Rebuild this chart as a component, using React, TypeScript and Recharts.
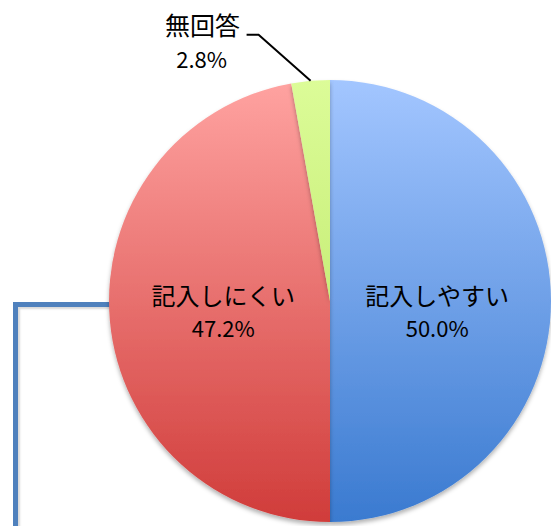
import React from "react";
import { PieChart, Pie, Cell } from "recharts";

const categories = ["記入しやすい", "記入しにくい", "無回答"];
const values = [50.0, 47.2, 2.8];
const percentLabels = ["50.0%", "47.2%", "2.8%"];

const gradients = [
  { id: "gBlue", top: "#a3c6ff", bottom: "#3a7ad0" },
  { id: "gRed", top: "#ffa3a1", bottom: "#d03c3a" },
  { id: "gGreen", top: "#dcfc98", bottom: "#b4e05a" },
];

const data = categories.map((name, i) => ({ name, value: values[i], pct: percentLabels[i] }));

const FONT = '"Noto Sans CJK JP", "Noto Sans", sans-serif';

const renderLabel = (props: any) => {
  const { cx, cy, midAngle, outerRadius, index } = props;
  const RAD = Math.PI / 180;
  const d = data[index];
  if (d.value < 5) {
    const ex = cx + outerRadius * Math.cos(-midAngle * RAD);
    const ey = cy + outerRadius * Math.sin(-midAngle * RAD);
    const bx = ex - 52;
    const by = ey - 46;
    const tx = bx - 12;
    return (
      <g>
        <polyline points={`${ex},${ey} ${bx},${by} ${tx},${by}`} fill="none" stroke="#000" strokeWidth={2} />
        <text x={tx - 44} y={by} textAnchor="middle" fontFamily={FONT} fontSize={25} fill="#000">
          {d.name}
        </text>
        <text x={tx - 45} y={by + 33} textAnchor="middle" fontFamily={FONT} fontSize={22} fill="#000">
          {d.pct}
        </text>
      </g>
    );
  }
  const r = outerRadius * 0.485;
  const x = cx + r * Math.cos(-midAngle * RAD);
  return (
    <g>
      <text x={x} y={cy + 4} textAnchor="middle" fontFamily={FONT} fontSize={24} fill="#000">
        {d.name}
      </text>
      <text x={x} y={cy + 36} textAnchor="middle" fontFamily={FONT} fontSize={22} fill="#000">
        {d.pct}
      </text>
    </g>
  );
};

export default function App() {
  return (
    <div style={{ position: "absolute", left: 0, top: 0, width: 551, height: 526, overflow: "hidden", background: "#fff" }}>
      <div
        style={{
          position: "absolute",
          left: 13,
          top: 302,
          width: 110,
          height: 240,
          borderLeft: "5px solid #4f81bd",
          borderTop: "5px solid #4f81bd",
          boxShadow: "inset 2px 2px 2px rgba(0,0,0,0.15)",
        }}
      />
      <div style={{ position: "absolute", left: 0, top: 0 }}>
        <PieChart width={551} height={526} margin={{ top: 0, right: 0, bottom: 0, left: 0 }}>
          <defs>
            {gradients.map((g) => (
              <linearGradient key={g.id} id={g.id} gradientUnits="userSpaceOnUse" x1="0" y1="80" x2="0" y2="522">
                <stop offset="0%" stopColor={g.top} />
                <stop offset="100%" stopColor={g.bottom} />
              </linearGradient>
            ))}
            <filter id="pieShadow" x="-10%" y="-10%" width="120%" height="120%">
              <feDropShadow dx="0" dy="3" stdDeviation="2" floodColor="#000" floodOpacity="0.3" />
            </filter>
          </defs>
          <Pie
            data={data}
            dataKey="value"
            nameKey="name"
            cx={330}
            cy={301}
            outerRadius={221}
            startAngle={90}
            endAngle={-270}
            stroke="none"
            isAnimationActive={false}
            label={renderLabel}
            labelLine={false}
            style={{ filter: "url(#pieShadow)" }}
          >
            {data.map((d, i) => (
              <Cell key={d.name} fill={`url(#${gradients[i].id})`} />
            ))}
          </Pie>
        </PieChart>
      </div>
    </div>
  );
}
